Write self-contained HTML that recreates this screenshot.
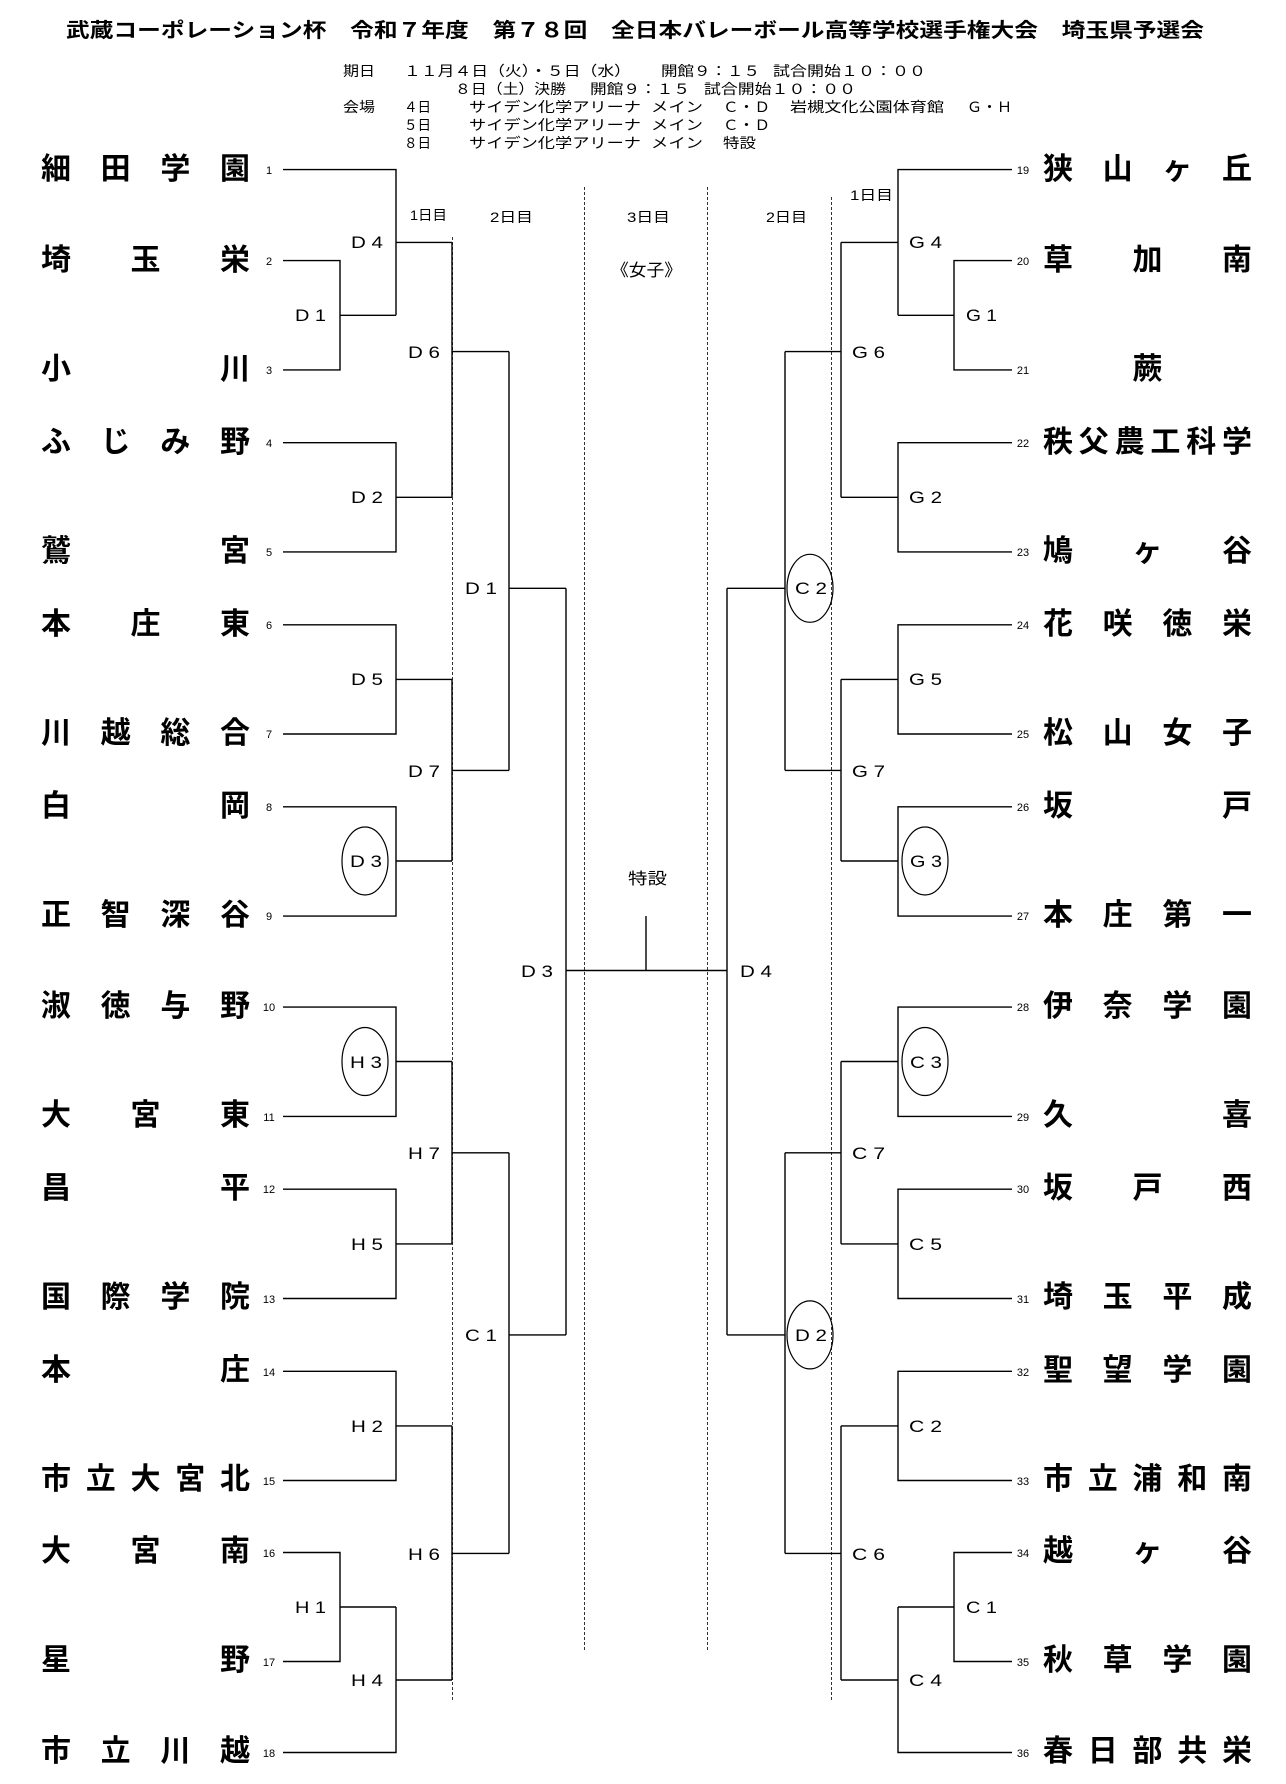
<!DOCTYPE html>
<html><head><meta charset="utf-8"><style>
html,body{margin:0;padding:0;background:#fff;}
#w{position:relative;width:1286px;height:1784px;overflow:hidden;font-family:"Liberation Sans","Noto Sans CJK JP",sans-serif;}
svg{position:absolute;left:0;top:0;}
.n{position:absolute;width:209px;height:40px;line-height:40px;display:flex;justify-content:space-between;font-weight:bold;font-size:30px;color:#000;font-family:"Liberation Sans","Noto Sans CJK JP",sans-serif;}
.n.c{justify-content:center;}
.L{left:41px}.R{left:1043px}
</style></head><body><div id="w">
<svg width="1286" height="1784" viewBox="0 0 1286 1784" font-family="Liberation Sans, Noto Sans CJK JP, sans-serif">
<text x="66" y="37" font-size="20" font-weight="bold" textLength="1138" lengthAdjust="spacingAndGlyphs">武蔵コーポレーション杯　令和７年度　第７８回　全日本バレーボール高等学校選手権大会　埼玉県予選会</text>
<g font-size="14">
<text x="343" y="76" textLength="32" lengthAdjust="spacingAndGlyphs">期日</text>
<text x="404" y="76" textLength="227" lengthAdjust="spacingAndGlyphs">１１月４日（火）・５日（水）</text>
<text x="661" y="76" textLength="99" lengthAdjust="spacingAndGlyphs">開館９：１５</text>
<text x="773" y="76" textLength="153" lengthAdjust="spacingAndGlyphs">試合開始１０：００</text>
<text x="455" y="94" textLength="111" lengthAdjust="spacingAndGlyphs">８日（土）決勝</text>
<text x="590" y="94" textLength="100" lengthAdjust="spacingAndGlyphs">開館９：１５</text>
<text x="704" y="94" textLength="152" lengthAdjust="spacingAndGlyphs">試合開始１０：００</text>
<text x="343" y="112" textLength="32" lengthAdjust="spacingAndGlyphs">会場</text>
<text x="404" y="112" textLength="27" lengthAdjust="spacingAndGlyphs">４日</text>
<text x="469" y="112" textLength="172" lengthAdjust="spacingAndGlyphs">サイデン化学アリーナ</text>
<text x="651" y="112" textLength="52" lengthAdjust="spacingAndGlyphs">メイン</text>
<text x="723" y="112" textLength="47" lengthAdjust="spacingAndGlyphs">Ｃ・Ｄ</text>
<text x="790" y="112" textLength="154" lengthAdjust="spacingAndGlyphs">岩槻文化公園体育館</text>
<text x="967" y="112" textLength="45" lengthAdjust="spacingAndGlyphs">Ｇ・Ｈ</text>
<text x="404" y="130" textLength="27" lengthAdjust="spacingAndGlyphs">５日</text>
<text x="469" y="130" textLength="172" lengthAdjust="spacingAndGlyphs">サイデン化学アリーナ</text>
<text x="651" y="130" textLength="52" lengthAdjust="spacingAndGlyphs">メイン</text>
<text x="723" y="130" textLength="47" lengthAdjust="spacingAndGlyphs">Ｃ・Ｄ</text>
<text x="404" y="148" textLength="27" lengthAdjust="spacingAndGlyphs">８日</text>
<text x="469" y="148" textLength="172" lengthAdjust="spacingAndGlyphs">サイデン化学アリーナ</text>
<text x="651" y="148" textLength="52" lengthAdjust="spacingAndGlyphs">メイン</text>
<text x="723" y="148" textLength="33" lengthAdjust="spacingAndGlyphs">特設</text>
<text x="410" y="220" textLength="37" lengthAdjust="spacingAndGlyphs">1日目</text>
<text x="490" y="222" textLength="43" lengthAdjust="spacingAndGlyphs">2日目</text>
<text x="627" y="222" textLength="43" lengthAdjust="spacingAndGlyphs">3日目</text>
<text x="766" y="222" textLength="41" lengthAdjust="spacingAndGlyphs">2日目</text>
<text x="850" y="200" textLength="43" lengthAdjust="spacingAndGlyphs">1日目</text>
</g>
<text x="611" y="276" font-size="17" textLength="71" lengthAdjust="spacingAndGlyphs">《女子》</text>
<text x="628" y="884" font-size="16" textLength="39" lengthAdjust="spacingAndGlyphs">特設</text>

<g stroke="#333" stroke-width="1" stroke-dasharray="3,2" fill="none">
<line x1="452.5" y1="237" x2="452.5" y2="1700"/>
<line x1="584.5" y1="187" x2="584.5" y2="1650"/>
<line x1="707.5" y1="187" x2="707.5" y2="1650"/>
<line x1="831.5" y1="197" x2="831.5" y2="1700"/>
</g>

<g stroke="#000" stroke-width="1.4" fill="none">
<!-- left -->
<polyline points="283,169.6 396,169.6 396,315.3"/>
<polyline points="283,260.6 340,260.6 340,369.9 283,369.9"/>
<line x1="340" y1="315.3" x2="396" y2="315.3"/>
<line x1="396" y1="242.4" x2="452" y2="242.4"/>
<polyline points="283,442.7 396,442.7 396,551.9 283,551.9"/>
<line x1="396" y1="497.3" x2="452" y2="497.3"/>
<line x1="452" y1="242.4" x2="452" y2="497.3"/>
<line x1="452" y1="351.6" x2="509" y2="351.6"/>
<polyline points="283,624.8 396,624.8 396,734 283,734"/>
<line x1="396" y1="679.4" x2="452" y2="679.4"/>
<polyline points="283,806.8 396,806.8 396,916.1 283,916.1"/>
<line x1="396" y1="861" x2="452" y2="861"/>
<line x1="452" y1="679.4" x2="452" y2="861"/>
<line x1="452" y1="770.4" x2="509" y2="770.4"/>
<polyline points="509,351.6 509,770.4"/>
<line x1="509" y1="588.3" x2="566" y2="588.3"/>
<polyline points="283,1007.1 396,1007.1 396,1116.4 283,1116.4"/>
<line x1="396" y1="1061.5" x2="452" y2="1061.5"/>
<polyline points="283,1189.2 396,1189.2 396,1298.5 283,1298.5"/>
<line x1="396" y1="1243.9" x2="452" y2="1243.9"/>
<line x1="452" y1="1061.5" x2="452" y2="1243.9"/>
<line x1="452" y1="1152.8" x2="509" y2="1152.8"/>
<polyline points="283,1371.3 396,1371.3 396,1480.5 283,1480.5"/>
<line x1="396" y1="1425.9" x2="452" y2="1425.9"/>
<polyline points="283,1552.5 340,1552.5 340,1661.5 283,1661.5"/>
<line x1="340" y1="1607" x2="396" y2="1607"/>
<polyline points="396,1607 396,1752.5 283,1752.5"/>
<line x1="396" y1="1680" x2="452" y2="1680"/>
<line x1="452" y1="1425.9" x2="452" y2="1680"/>
<line x1="452" y1="1553.4" x2="509" y2="1553.4"/>
<line x1="509" y1="1152.8" x2="509" y2="1553.4"/>
<line x1="509" y1="1334.9" x2="566" y2="1334.9"/>
<line x1="566" y1="588.3" x2="566" y2="1334.9"/>
<line x1="566" y1="970.5" x2="727" y2="970.5"/>
<line x1="646" y1="916" x2="646" y2="970.5"/>
<!-- right -->
<polyline points="1012,169.6 898,169.6 898,315.3"/>
<polyline points="1012,260.6 954,260.6 954,369.9 1012,369.9"/>
<line x1="954" y1="315.3" x2="898" y2="315.3"/>
<line x1="898" y1="242.4" x2="841" y2="242.4"/>
<polyline points="1012,442.7 898,442.7 898,551.9 1012,551.9"/>
<line x1="898" y1="497.3" x2="841" y2="497.3"/>
<line x1="841" y1="242.4" x2="841" y2="497.3"/>
<line x1="841" y1="351.6" x2="785" y2="351.6"/>
<polyline points="1012,624.8 898,624.8 898,734 1012,734"/>
<line x1="898" y1="679.4" x2="841" y2="679.4"/>
<polyline points="1012,806.8 898,806.8 898,916.1 1012,916.1"/>
<line x1="898" y1="861" x2="841" y2="861"/>
<line x1="841" y1="679.4" x2="841" y2="861"/>
<line x1="841" y1="770.4" x2="785" y2="770.4"/>
<line x1="785" y1="351.6" x2="785" y2="770.4"/>
<line x1="785" y1="588.3" x2="727" y2="588.3"/>
<polyline points="1012,1007.1 898,1007.1 898,1116.4 1012,1116.4"/>
<line x1="898" y1="1061.5" x2="841" y2="1061.5"/>
<polyline points="1012,1189.2 898,1189.2 898,1298.5 1012,1298.5"/>
<line x1="898" y1="1243.9" x2="841" y2="1243.9"/>
<line x1="841" y1="1061.5" x2="841" y2="1243.9"/>
<line x1="841" y1="1152.8" x2="785" y2="1152.8"/>
<polyline points="1012,1371.3 898,1371.3 898,1480.5 1012,1480.5"/>
<line x1="898" y1="1425.9" x2="841" y2="1425.9"/>
<polyline points="1012,1552.5 954,1552.5 954,1661.5 1012,1661.5"/>
<line x1="954" y1="1607" x2="898" y2="1607"/>
<polyline points="898,1607 898,1752.5 1012,1752.5"/>
<line x1="898" y1="1680" x2="841" y2="1680"/>
<line x1="841" y1="1425.9" x2="841" y2="1680"/>
<line x1="841" y1="1553.4" x2="785" y2="1553.4"/>
<line x1="785" y1="1152.8" x2="785" y2="1553.4"/>
<line x1="785" y1="1334.9" x2="727" y2="1334.9"/>
<line x1="727" y1="588.3" x2="727" y2="1334.9"/>
</g>

<g stroke="#000" stroke-width="1.2" fill="none">
<ellipse cx="365" cy="861" rx="23" ry="34"/>
<ellipse cx="365" cy="1061.5" rx="23" ry="34"/>
<ellipse cx="925" cy="861" rx="23" ry="34"/>
<ellipse cx="925" cy="1061.5" rx="23" ry="34"/>
<ellipse cx="810" cy="588.3" rx="23" ry="34"/>
<ellipse cx="810" cy="1334.9" rx="23" ry="34"/>
</g>

<g font-size="17" text-anchor="end">
<text x="383" y="248" textLength="32" lengthAdjust="spacingAndGlyphs">D 4</text>
<text x="326" y="321" textLength="31" lengthAdjust="spacingAndGlyphs">D 1</text>
<text x="383" y="503" textLength="32" lengthAdjust="spacingAndGlyphs">D 2</text>
<text x="383" y="685" textLength="32" lengthAdjust="spacingAndGlyphs">D 5</text>
<text x="383" y="1250" textLength="32" lengthAdjust="spacingAndGlyphs">H 5</text>
<text x="383" y="1432" textLength="32" lengthAdjust="spacingAndGlyphs">H 2</text>
<text x="383" y="1686" textLength="32" lengthAdjust="spacingAndGlyphs">H 4</text>
<text x="326" y="1613" textLength="31" lengthAdjust="spacingAndGlyphs">H 1</text>
<text x="440" y="358" textLength="32" lengthAdjust="spacingAndGlyphs">D 6</text>
<text x="440" y="777" textLength="32" lengthAdjust="spacingAndGlyphs">D 7</text>
<text x="440" y="1159" textLength="32" lengthAdjust="spacingAndGlyphs">H 7</text>
<text x="440" y="1560" textLength="32" lengthAdjust="spacingAndGlyphs">H 6</text>
<text x="497" y="594" textLength="32" lengthAdjust="spacingAndGlyphs">D 1</text>
<text x="497" y="1341" textLength="32" lengthAdjust="spacingAndGlyphs">C 1</text>
<text x="553" y="977" textLength="32" lengthAdjust="spacingAndGlyphs">D 3</text>
</g>
<g font-size="17" text-anchor="middle">
<text x="366" y="867" textLength="32" lengthAdjust="spacingAndGlyphs">D 3</text>
<text x="366" y="1068" textLength="32" lengthAdjust="spacingAndGlyphs">H 3</text>
<text x="926" y="867" textLength="32" lengthAdjust="spacingAndGlyphs">G 3</text>
<text x="926" y="1068" textLength="32" lengthAdjust="spacingAndGlyphs">C 3</text>
<text x="811" y="594" textLength="32" lengthAdjust="spacingAndGlyphs">C 2</text>
<text x="811" y="1341" textLength="32" lengthAdjust="spacingAndGlyphs">D 2</text>
</g>
<g font-size="17">
<text x="909" y="248" textLength="33" lengthAdjust="spacingAndGlyphs">G 4</text>
<text x="966" y="321" textLength="31" lengthAdjust="spacingAndGlyphs">G 1</text>
<text x="909" y="503" textLength="33" lengthAdjust="spacingAndGlyphs">G 2</text>
<text x="909" y="685" textLength="33" lengthAdjust="spacingAndGlyphs">G 5</text>
<text x="909" y="1250" textLength="33" lengthAdjust="spacingAndGlyphs">C 5</text>
<text x="909" y="1432" textLength="33" lengthAdjust="spacingAndGlyphs">C 2</text>
<text x="909" y="1686" textLength="33" lengthAdjust="spacingAndGlyphs">C 4</text>
<text x="966" y="1613" textLength="31" lengthAdjust="spacingAndGlyphs">C 1</text>
<text x="852" y="358" textLength="33" lengthAdjust="spacingAndGlyphs">G 6</text>
<text x="852" y="777" textLength="33" lengthAdjust="spacingAndGlyphs">G 7</text>
<text x="852" y="1159" textLength="33" lengthAdjust="spacingAndGlyphs">C 7</text>
<text x="852" y="1560" textLength="33" lengthAdjust="spacingAndGlyphs">C 6</text>
<text x="740" y="977" textLength="32" lengthAdjust="spacingAndGlyphs">D 4</text>
</g>

<g font-size="11" text-anchor="middle">
<text x="269" y="174">1</text><text x="269" y="265">2</text><text x="269" y="374">3</text>
<text x="269" y="447">4</text><text x="269" y="556">5</text><text x="269" y="629">6</text>
<text x="269" y="738">7</text><text x="269" y="811">8</text><text x="269" y="920">9</text>
<text x="269" y="1011">10</text><text x="269" y="1121">11</text><text x="269" y="1193">12</text>
<text x="269" y="1303">13</text><text x="269" y="1376">14</text><text x="269" y="1485">15</text>
<text x="269" y="1557">16</text><text x="269" y="1666">17</text><text x="269" y="1757">18</text>
<text x="1023" y="174">19</text><text x="1023" y="265">20</text><text x="1023" y="374">21</text>
<text x="1023" y="447">22</text><text x="1023" y="556">23</text><text x="1023" y="629">24</text>
<text x="1023" y="738">25</text><text x="1023" y="811">26</text><text x="1023" y="920">27</text>
<text x="1023" y="1011">28</text><text x="1023" y="1121">29</text><text x="1023" y="1193">30</text>
<text x="1023" y="1303">31</text><text x="1023" y="1376">32</text><text x="1023" y="1485">33</text>
<text x="1023" y="1557">34</text><text x="1023" y="1666">35</text><text x="1023" y="1757">36</text>
</g>
</svg>

<div class="n L" style="top:150px"><span>細</span><span>田</span><span>学</span><span>園</span></div>
<div class="n L" style="top:241px"><span>埼</span><span>玉</span><span>栄</span></div>
<div class="n L" style="top:350px"><span>小</span><span>川</span></div>
<div class="n L" style="top:423px"><span>ふ</span><span>じ</span><span>み</span><span>野</span></div>
<div class="n L" style="top:532px"><span>鷲</span><span>宮</span></div>
<div class="n L" style="top:605px"><span>本</span><span>庄</span><span>東</span></div>
<div class="n L" style="top:714px"><span>川</span><span>越</span><span>総</span><span>合</span></div>
<div class="n L" style="top:787px"><span>白</span><span>岡</span></div>
<div class="n L" style="top:896px"><span>正</span><span>智</span><span>深</span><span>谷</span></div>
<div class="n L" style="top:987px"><span>淑</span><span>徳</span><span>与</span><span>野</span></div>
<div class="n L" style="top:1096px"><span>大</span><span>宮</span><span>東</span></div>
<div class="n L" style="top:1169px"><span>昌</span><span>平</span></div>
<div class="n L" style="top:1278px"><span>国</span><span>際</span><span>学</span><span>院</span></div>
<div class="n L" style="top:1351px"><span>本</span><span>庄</span></div>
<div class="n L" style="top:1460px"><span>市</span><span>立</span><span>大</span><span>宮</span><span>北</span></div>
<div class="n L" style="top:1532px"><span>大</span><span>宮</span><span>南</span></div>
<div class="n L" style="top:1641px"><span>星</span><span>野</span></div>
<div class="n L" style="top:1732px"><span>市</span><span>立</span><span>川</span><span>越</span></div>

<div class="n R" style="top:150px"><span>狭</span><span>山</span><span>ヶ</span><span>丘</span></div>
<div class="n R" style="top:241px"><span>草</span><span>加</span><span>南</span></div>
<div class="n R c" style="top:350px"><span>蕨</span></div>
<div class="n R" style="top:423px"><span>秩</span><span>父</span><span>農</span><span>工</span><span>科</span><span>学</span></div>
<div class="n R" style="top:532px"><span>鳩</span><span>ヶ</span><span>谷</span></div>
<div class="n R" style="top:605px"><span>花</span><span>咲</span><span>徳</span><span>栄</span></div>
<div class="n R" style="top:714px"><span>松</span><span>山</span><span>女</span><span>子</span></div>
<div class="n R" style="top:787px"><span>坂</span><span>戸</span></div>
<div class="n R" style="top:896px"><span>本</span><span>庄</span><span>第</span><span>一</span></div>
<div class="n R" style="top:987px"><span>伊</span><span>奈</span><span>学</span><span>園</span></div>
<div class="n R" style="top:1096px"><span>久</span><span>喜</span></div>
<div class="n R" style="top:1169px"><span>坂</span><span>戸</span><span>西</span></div>
<div class="n R" style="top:1278px"><span>埼</span><span>玉</span><span>平</span><span>成</span></div>
<div class="n R" style="top:1351px"><span>聖</span><span>望</span><span>学</span><span>園</span></div>
<div class="n R" style="top:1460px"><span>市</span><span>立</span><span>浦</span><span>和</span><span>南</span></div>
<div class="n R" style="top:1532px"><span>越</span><span>ヶ</span><span>谷</span></div>
<div class="n R" style="top:1641px"><span>秋</span><span>草</span><span>学</span><span>園</span></div>
<div class="n R" style="top:1732px"><span>春</span><span>日</span><span>部</span><span>共</span><span>栄</span></div>
</div></body></html>
